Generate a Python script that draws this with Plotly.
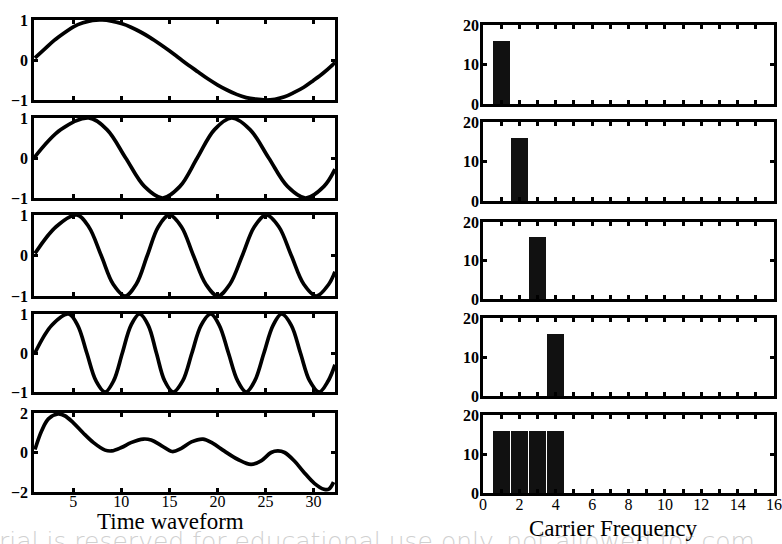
import plotly.graph_objects as go
from plotly.subplots import make_subplots

# ---------------- data ----------------
# Time waveforms of the carriers (sample index vs amplitude)
t1 = [1, 2, 3, 4, 5, 6, 7, 8, 9, 10, 11, 12, 13, 14, 15, 16, 17, 18, 19, 20,
      21, 22, 23, 24, 25, 26, 27, 28, 29, 30, 31, 32, 32.25]
wave1 = [0.05, 0.27, 0.49, 0.67, 0.83, 0.93, 0.99, 1.00, 0.97, 0.91, 0.82, 0.70,
         0.56, 0.40, 0.23, 0.05, -0.13, -0.30, -0.47, -0.62, -0.75, -0.86, -0.94,
         -0.98, -1.00, -0.98, -0.92, -0.81, -0.68, -0.51, -0.33, -0.12, -0.06]

t2 = [0.9, 3.7, 6.6, 8.5, 10.45, 12.4, 14.3, 16.1, 17.9, 19.7, 21.5, 23.4,
      25.35, 27.3, 29.2, 31.1, 32.25]
wave2 = [0.0, 0.71, 1.0, 0.71, 0.0, -0.71, -1.0, -0.71, 0.0, 0.71, 1.0, 0.71,
         0.0, -0.71, -1.0, -0.71, -0.28]

t3 = [1.0, 3.2, 5.35, 6.6, 7.9, 9.15, 10.4, 11.55, 12.7, 13.85, 15.0, 16.25,
      17.5, 18.8, 20.05, 21.3, 22.6, 23.85, 25.1, 26.4, 27.7, 29.0, 30.3, 31.6, 32.25]
wave3 = [0.05, 0.71, 1.0, 0.71, 0.0, -0.71, -1.0, -0.71, 0.0, 0.71, 1.0, 0.71,
         0.0, -0.71, -1.0, -0.71, 0.0, 0.71, 1.0, 0.71, 0.0, -0.71, -1.0, -0.71, -0.4]

t4 = [1.0, 2.75, 4.5, 5.45, 6.4, 7.35, 8.3, 9.2, 10.1, 11.0, 11.9, 12.8, 13.65,
      14.5, 15.4, 16.4, 17.35, 18.3, 19.3, 20.2, 21.15, 22.1, 23.0, 23.9, 24.85,
      25.8, 26.7, 27.7, 28.65, 29.6, 30.6, 31.55, 32.25]
wave4 = [0.0, 0.71, 1.0, 0.71, 0.0, -0.71, -1.0, -0.71, 0.0, 0.71, 1.0, 0.71, 0.0,
         -0.71, -1.0, -0.71, 0.0, 0.71, 1.0, 0.71, 0.0, -0.71, -1.0, -0.71, 0.0,
         0.71, 1.0, 0.71, 0.0, -0.71, -1.0, -0.71, -0.3]

t5 = [1.0, 1.7, 2.4, 3.4, 4.1, 5.0, 6.0, 7.1, 8.3, 9.0, 10.0, 11.0, 12.3, 13.1,
      14.2, 15.3, 16.2, 17.3, 18.5, 19.5, 20.7, 22.1, 23.5, 24.55, 25.6, 26.3,
      27.0, 28.0, 29.05, 30.1, 31.1, 31.6, 32.1]
wave5 = [0.15, 1.1, 1.7, 1.95, 1.86, 1.5, 1.0, 0.5, 0.12, 0.08, 0.25, 0.5, 0.68,
         0.63, 0.34, 0.05, 0.2, 0.54, 0.68, 0.47, 0.08, -0.34, -0.6, -0.42, 0.0,
         0.08, 0.0, -0.42, -1.02, -1.56, -1.86, -1.86, -1.5]

# Spectra (carrier frequency bin vs magnitude)
freq_bins = list(range(17))
spec1 = [0, 16, 0, 0, 0, 0, 0, 0, 0, 0, 0, 0, 0, 0, 0, 0, 0]
spec2 = [0, 0, 16, 0, 0, 0, 0, 0, 0, 0, 0, 0, 0, 0, 0, 0, 0]
spec3 = [0, 0, 0, 16, 0, 0, 0, 0, 0, 0, 0, 0, 0, 0, 0, 0, 0]
spec4 = [0, 0, 0, 0, 16, 0, 0, 0, 0, 0, 0, 0, 0, 0, 0, 0, 0]
spec5 = [0, 16, 16, 16, 16, 0, 0, 0, 0, 0, 0, 0, 0, 0, 0, 0, 0]

time_ticks = [5, 10, 15, 20, 25, 30]
freq_ticks = list(range(17))
freq_labels = ["0", "", "2", "", "4", "", "6", "", "8", "", "10", "", "12", "", "14", "", "16"]
amp_ticks = [-1, 0, 1]
sum_ticks = [-2, 0, 2]
mag_ticks = [0, 10, 20]

left_title = "Time waveform"
right_title = "Carrier Frequency"
watermark = "rial is reserved for educational use only. not allowed for com"

# ---------------- figure ----------------
W, H = 782, 544
times = [t1, t2, t3, t4, t5]
waves = [wave1, wave2, wave3, wave4, wave5]
specs = [spec1, spec2, spec3, spec4, spec5]

fig = make_subplots(rows=5, cols=2)

for i in range(5):
    fig.add_trace(go.Scatter(x=times[i], y=waves[i], mode="lines",
                             line=dict(color="black", width=3.7, shape="spline", smoothing=1.0),
                             showlegend=False), row=i + 1, col=1)
    fig.add_trace(go.Bar(x=freq_bins, y=specs[i], width=0.92,
                         marker=dict(color="#111111", line=dict(width=0)),
                         showlegend=False), row=i + 1, col=2)

left_rows = [(20, 100), (118, 198), (215, 296), (314, 392), (413, 492)]
right_rows = [(25, 104), (122, 201), (222, 299), (318, 396), (415, 493)]
left_x = (34, 335)
right_x = (483, 774)

base = dict(showline=True, linecolor="black", linewidth=2.5, mirror="ticks",
            ticks="inside", ticklen=4, tickwidth=2.5, tickcolor="black",
            showgrid=False, zeroline=False, fixedrange=True, automargin=False,
            ticklabeloverflow="allow")
reg_font = dict(family="Liberation Serif", size=16, color="black")
bold_font = dict(family="Liberation Serif", size=16, color="black", weight="bold")

def pdom(top, bot):
    return [1 - bot / H, 1 - top / H]

layout_upd = {}
for i in range(5):
    ax_l = 2 * i + 1
    ax_r = 2 * i + 2
    sl = "" if ax_l == 1 else str(ax_l)
    sr = str(ax_r)
    layout_upd["xaxis" + sl] = dict(base, domain=[left_x[0] / W, left_x[1] / W],
                                    range=[0.9, 32.25], tickvals=time_ticks,
                                    showticklabels=(i == 4), tickfont=reg_font,
                                    ticklabelstandoff=-7)
    yr = [-2, 2] if i == 4 else [-1, 1]
    yt = sum_ticks if i == 4 else amp_ticks
    layout_upd["yaxis" + sl] = dict(base, domain=pdom(*left_rows[i]), range=yr,
                                    tickvals=yt, tickfont=bold_font)
    layout_upd["xaxis" + sr] = dict(base, domain=[right_x[0] / W, right_x[1] / W],
                                    range=[0, 16], tickvals=freq_ticks, ticktext=freq_labels,
                                    showticklabels=(i == 4), tickfont=reg_font,
                                    ticklabelstandoff=-5)
    layout_upd["yaxis" + sr] = dict(base, domain=pdom(*right_rows[i]), range=[0, 20],
                                    tickvals=mag_ticks, tickfont=bold_font,
                                    ticklabelstandoff=-2)

fig.update_layout(**layout_upd)

fig.update_layout(
    width=W, height=H,
    margin=dict(l=0, r=0, t=0, b=0, autoexpand=False),
    paper_bgcolor="white", plot_bgcolor="white",
    bargap=0,
    annotations=[
        dict(text=watermark, x=-3 / W, y=1 - 541 / H, xref="paper", yref="paper",
             xanchor="left", yanchor="middle", showarrow=False,
             font=dict(family="DejaVu Sans", size=25, color="#d0d0d0", weight=200)),
        dict(text=left_title, x=170 / W, y=1 - 521 / H, xref="paper", yref="paper",
             xanchor="center", yanchor="middle", showarrow=False,
             font=dict(family="Liberation Serif", size=23, color="black")),
        dict(text=right_title, x=613 / W, y=1 - 528 / H, xref="paper", yref="paper",
             xanchor="center", yanchor="middle", showarrow=False,
             font=dict(family="Liberation Serif", size=23, color="black")),
    ],
)

fig.write_html("out.html", config={"displayModeBar": False},
               post_script="document.body.style.margin='0';document.body.style.overflow='hidden';")
